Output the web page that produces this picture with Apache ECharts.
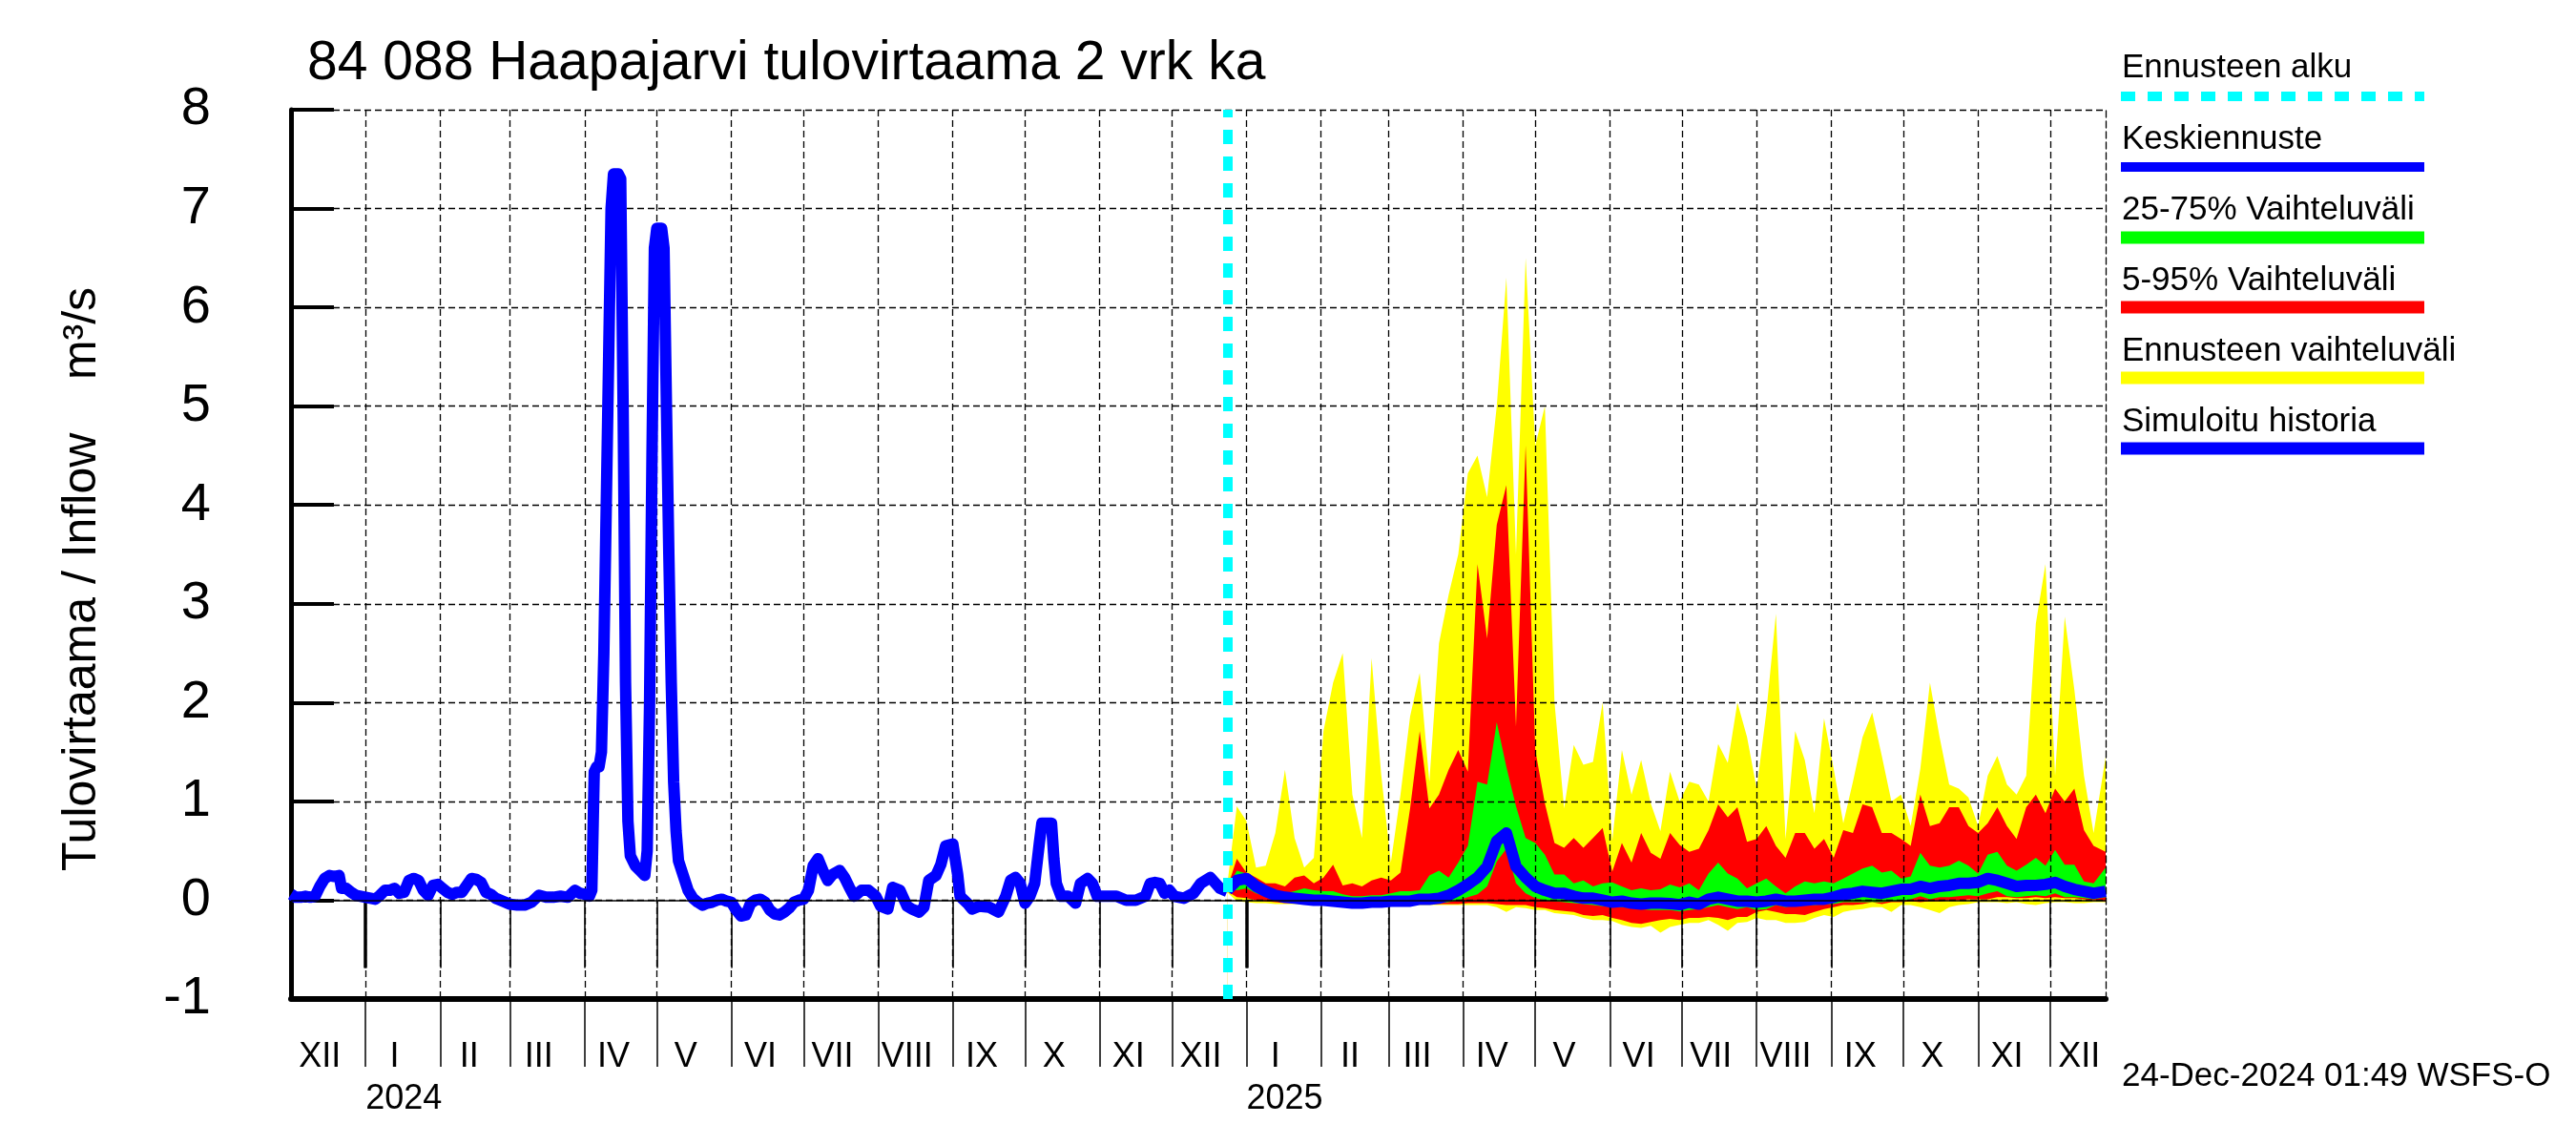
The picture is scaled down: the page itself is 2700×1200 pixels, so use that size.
<!DOCTYPE html>
<html><head><meta charset="utf-8">
<script src="https://cdn.jsdelivr.net/npm/echarts@6/dist/echarts.min.js"></script>
<style>html,body{margin:0;padding:0;background:#fff}#c{width:2700px;height:1200px}</style>
</head><body><div id="c"></div>
<script>
// x values are day offsets from 1 Dec 2023
const monthStarts = [0,31,62,91,122,152,183,213,244,275,305,336,366,397,428,456,487,517,548,578,609,640,670,701,731];
const monthLabels = ['XII','I','II','III','IV','V','VI','VII','VIII','IX','X','XI','XII','I','II','III','IV','V','VI','VII','VIII','IX','X','XI','XII'];
const yearStarts = [31,397];
const yearLabels = ['2024','2025'];
const yTickLabels = ['-1','0','1','2','3','4','5','6','7','8'];
const forecastStart = 389;
const axisEnd = 754;

const histDays = [0,2,4,6,8,10,12,14,16,18,20,21,23,25,27,29,31,33,35,37,39,41,43,45,47,49,51,53,55,57,59,61,63,65,67,69,71,73,75,77,79,81,83,85,88,91,94,97,100,103,106,109,112,115,118,120,122,124,125,126,127,128,129,130,131,132,133,134,135,136,137,138,139,140,141,143,145,147,148,149,150,151,152,153,154,155,156,157,158,159,160,161,163,165,167,169,171,173,175,177,179,181,183,185,187,189,191,193,195,197,199,201,203,205,207,209,211,213,215,217,219,221,223,225,228,230,232,234,237,240,243,245,248,250,253,256,258,261,263,265,268,270,272,275,277,278,281,283,286,290,294,297,299,301,303,305,307,309,311,312,316,317,318,320,323,326,328,331,333,335,339,343,347,351,355,357,359,361,363,365,367,371,375,378,382,386,389];
const histVals = [0.06,0.03,0.03,0.04,0.03,0.04,0.14,0.22,0.25,0.24,0.25,0.12,0.12,0.08,0.05,0.04,0.03,0.02,0.01,0.05,0.1,0.1,0.12,0.07,0.08,0.2,0.22,0.2,0.1,0.05,0.15,0.16,0.12,0.08,0.06,0.08,0.08,0.15,0.22,0.21,0.18,0.08,0.06,0.02,-0.01,-0.04,-0.05,-0.05,-0.02,0.05,0.03,0.03,0.04,0.03,0.1,0.07,0.06,0.04,0.1,1.3,1.35,1.35,1.5,2.5,4.0,5.5,7.0,7.35,7.35,7.35,7.3,5.0,2.2,0.8,0.45,0.35,0.3,0.25,0.5,2.0,4.5,6.6,6.8,6.8,6.8,6.6,5.0,3.5,2.2,1.2,0.7,0.4,0.25,0.1,0.02,-0.02,-0.05,-0.03,-0.02,0.0,0.01,-0.01,-0.02,-0.1,-0.16,-0.15,-0.03,0.0,0.01,-0.02,-0.1,-0.14,-0.15,-0.12,-0.08,-0.02,0.0,0.01,0.1,0.35,0.42,0.3,0.2,0.26,0.3,0.23,0.13,0.04,0.1,0.1,0.04,-0.06,-0.09,0.13,0.1,-0.06,-0.09,-0.12,-0.07,0.2,0.25,0.36,0.55,0.57,0.26,0.04,-0.03,-0.09,-0.06,-0.07,-0.12,0.04,0.2,0.23,0.17,-0.03,0.04,0.17,0.59,0.78,0.78,0.42,0.17,0.04,0.04,-0.03,0.17,0.22,0.17,0.04,0.04,0.04,0.0,0.0,0.04,0.17,0.18,0.17,0.07,0.1,0.04,0.02,0.07,0.17,0.23,0.12,0.09];

const fDays = [389,393,397,401,405,409,413,417,421,425,429,433,437,441,445,449,453,457,461,465,469,473,477,481,485,489,493,497,501,505,509,513,517,521,525,529,533,537,541,545,549,553,557,561,565,569,573,577,581,585,589,593,597,601,605,609,613,617,621,625,629,633,637,641,645,649,653,657,661,665,669,673,677,681,685,689,693,697,701,705,709,713,717,721,725,729,733,737,741,745,749,754];
const fMax = [0.15,0.95,0.8,0.33,0.35,0.68,1.32,0.63,0.33,0.43,1.71,2.2,2.5,1.07,0.63,2.45,1.27,0.38,1.07,1.86,2.3,1.2,2.6,3.09,3.5,4.32,4.5,4.08,5.0,6.3,3.5,6.5,4.6,5.0,2.0,0.93,1.57,1.37,1.4,2.0,0.6,1.52,1.07,1.42,0.98,0.7,1.3,1.0,1.2,1.17,1.0,1.58,1.39,2.0,1.65,1.13,1.9,2.9,0.62,1.71,1.42,0.88,1.84,1.33,0.78,1.2,1.65,1.9,1.46,1.0,1.07,0.75,1.33,2.2,1.65,1.17,1.13,1.04,0.75,1.26,1.46,1.17,1.07,1.26,2.8,3.4,1.26,2.87,2.13,1.26,0.68,1.45];
const fP95 = [0.12,0.42,0.28,0.23,0.17,0.17,0.14,0.23,0.25,0.17,0.23,0.36,0.15,0.17,0.14,0.2,0.23,0.2,0.28,0.93,1.71,0.93,1.07,1.32,1.52,1.3,3.4,2.65,3.8,4.2,1.76,4.6,1.52,0.98,0.58,0.53,0.63,0.53,0.63,0.73,0.29,0.58,0.38,0.68,0.48,0.42,0.68,0.56,0.49,0.52,0.71,0.97,0.84,0.94,0.59,0.62,0.75,0.55,0.43,0.68,0.68,0.52,0.62,0.43,0.71,0.68,0.97,0.94,0.68,0.68,0.62,0.55,1.07,0.75,0.78,0.94,0.94,0.75,0.68,0.78,0.94,0.75,0.62,0.94,1.07,0.88,1.13,1.0,1.13,0.71,0.55,0.49];
const fP75 = [0.12,0.3,0.27,0.18,0.12,0.08,0.07,0.09,0.12,0.1,0.09,0.09,0.06,0.04,0.04,0.05,0.05,0.07,0.09,0.09,0.1,0.25,0.3,0.23,0.38,0.55,1.2,1.17,1.8,1.35,0.95,0.63,0.58,0.46,0.26,0.26,0.17,0.2,0.14,0.17,0.18,0.14,0.1,0.12,0.1,0.11,0.16,0.13,0.17,0.1,0.27,0.38,0.27,0.22,0.12,0.17,0.22,0.14,0.07,0.14,0.19,0.17,0.19,0.17,0.22,0.27,0.32,0.35,0.28,0.3,0.22,0.24,0.48,0.35,0.33,0.35,0.4,0.35,0.27,0.46,0.49,0.35,0.3,0.36,0.43,0.35,0.51,0.36,0.36,0.19,0.17,0.33];
const fMedian = [0.1,0.2,0.22,0.14,0.09,0.05,0.03,0.02,0.01,0.0,0.0,-0.01,-0.02,-0.03,-0.03,-0.02,-0.02,-0.01,-0.01,-0.01,0.01,0.01,0.02,0.05,0.1,0.16,0.23,0.34,0.6,0.68,0.34,0.23,0.14,0.1,0.07,0.07,0.04,0.02,0.02,0.0,-0.02,-0.01,-0.03,-0.04,-0.03,-0.03,-0.035,-0.045,-0.02,-0.04,0.01,0.03,0.01,-0.01,-0.01,-0.02,-0.01,0.01,-0.01,-0.01,0.0,0.01,0.01,0.03,0.06,0.07,0.09,0.08,0.07,0.09,0.11,0.11,0.14,0.12,0.14,0.15,0.17,0.17,0.18,0.22,0.2,0.17,0.14,0.15,0.15,0.16,0.18,0.14,0.11,0.09,0.07,0.09];
const fP25 = [0.1,0.1,0.12,0.07,0.04,0.01,0.0,-0.01,-0.02,-0.03,-0.03,-0.04,-0.05,-0.05,-0.05,-0.05,-0.05,-0.04,-0.04,-0.04,-0.03,-0.03,-0.03,-0.02,0.0,0.03,0.06,0.14,0.39,0.52,0.17,0.07,0.02,0.0,-0.01,-0.02,-0.03,-0.04,-0.05,-0.06,-0.07,-0.07,-0.08,-0.09,-0.1,-0.1,-0.1,-0.115,-0.1,-0.09,-0.07,-0.05,-0.07,-0.09,-0.07,-0.1,-0.09,-0.05,-0.07,-0.05,-0.05,-0.05,-0.04,-0.04,-0.02,-0.02,-0.02,-0.02,-0.02,-0.01,-0.01,0.01,0.04,0.01,0.03,0.03,0.04,0.05,0.04,0.07,0.09,0.04,0.03,0.04,0.05,0.04,0.07,0.03,0.03,0.02,0.01,0.03];
const fP5 = [0.09,0.03,0.02,0.0,-0.01,-0.02,-0.03,-0.03,-0.03,-0.03,-0.04,-0.04,-0.04,-0.05,-0.05,-0.05,-0.05,-0.05,-0.05,-0.05,-0.04,-0.04,-0.04,-0.04,-0.04,-0.03,-0.03,-0.03,-0.04,-0.05,-0.05,-0.05,-0.07,-0.08,-0.1,-0.11,-0.12,-0.15,-0.16,-0.15,-0.18,-0.2,-0.23,-0.24,-0.22,-0.2,-0.19,-0.2,-0.18,-0.18,-0.17,-0.18,-0.2,-0.17,-0.17,-0.12,-0.1,-0.12,-0.14,-0.14,-0.15,-0.12,-0.09,-0.07,-0.05,-0.05,-0.04,-0.02,-0.04,-0.02,-0.02,-0.01,-0.02,-0.01,-0.01,0.0,0.0,0.01,0.01,0.01,0.03,0.03,0.02,0.02,0.03,0.02,0.03,0.02,0.02,0.01,0.0,-0.01];
const fMin = [0.08,-0.01,-0.02,-0.03,-0.03,-0.04,-0.04,-0.04,-0.04,-0.04,-0.05,-0.05,-0.05,-0.06,-0.06,-0.06,-0.06,-0.06,-0.06,-0.06,-0.05,-0.05,-0.05,-0.05,-0.05,-0.05,-0.05,-0.05,-0.07,-0.12,-0.07,-0.08,-0.1,-0.1,-0.13,-0.14,-0.15,-0.18,-0.2,-0.2,-0.21,-0.25,-0.27,-0.28,-0.26,-0.33,-0.27,-0.25,-0.23,-0.23,-0.2,-0.25,-0.31,-0.23,-0.22,-0.18,-0.2,-0.2,-0.23,-0.23,-0.22,-0.18,-0.15,-0.17,-0.12,-0.1,-0.09,-0.07,-0.07,-0.12,-0.05,-0.05,-0.07,-0.1,-0.13,-0.07,-0.05,-0.04,-0.02,-0.02,-0.02,-0.03,-0.02,-0.04,-0.05,-0.03,-0.02,-0.02,-0.03,-0.03,-0.02,-0.02];

const legendItems = ['Ennusteen alku','Keskiennuste','25-75% Vaihteluväli','5-95% Vaihteluväli','Ennusteen vaihteluväli','Simuloitu historia'];
const legendColors = ['#00ffff','#0000ff','#00ff00','#ff0000','#ffff00','#0000ff'];

const FONT = '"Liberation Sans", Arial, Helvetica, sans-serif';
const BLUE = '#0000ff', YEL = '#ffff00', RED = '#ff0000', GRN = '#00ff00', CYAN = '#00ffff';

const pairs = (xs, ys) => xs.map((x, i) => [x, ys[i]]);
const labelPos = monthStarts.map(d => d + 12);
const monthLabelMap = {};
labelPos.forEach((p, i) => { monthLabelMap[p] = monthLabels[i]; });
const yearLabelMap = {};
yearStarts.forEach((p, i) => { yearLabelMap[p] = yearLabels[i]; });

function fillToBottom(values, color) {
  return {
    type: 'line', data: pairs(fDays, values), symbol: 'none', z: 1, silent: true,
    lineStyle: { width: 0, opacity: 0 },
    areaStyle: { color: color, opacity: 1, origin: 'start' }
  };
}

const chart = echarts.init(document.getElementById('c'), null, { renderer: 'canvas', width: 2700, height: 1200 });

const legendGraphics = [];
const textY = [71, 146, 220, 294, 368, 442];
const lineY = [101, 175, 249, 322, 396, 470];
const lineH = [10, 10, 13, 13, 13, 13];
legendItems.forEach((t, i) => {
  legendGraphics.push({ type: 'text', x: 2224, y: textY[i], style: { text: t, fill: '#000', font: '35px ' + FONT, align: 'left', verticalAlign: 'middle' } });
  if (i === 0) {
    legendGraphics.push({ type: 'line', shape: { x1: 2223, y1: lineY[i], x2: 2541, y2: lineY[i] }, style: { stroke: legendColors[i], lineWidth: lineH[i], lineDash: [15, 13] } });
  } else {
    legendGraphics.push({ type: 'rect', shape: { x: 2223, y: lineY[i] - lineH[i] / 2, width: 318, height: lineH[i] }, style: { fill: legendColors[i] } });
  }
});

const gridLineStyle = { color: '#000', width: 1.3, type: [7, 4] };

const option = {
  animation: false,
  backgroundColor: '#ffffff',
  grid: { left: 305, top: 115, width: 1902, height: 932, containLabel: false },
  xAxis: [
    {
      type: 'value', min: 0, max: axisEnd, position: 'bottom', z: 2,
      axisLine: { show: true, onZero: false, lineStyle: { color: '#000', width: 6 } },
      axisTick: { show: true, inside: false, length: 71, customValues: monthStarts.slice(1), lineStyle: { color: '#000', width: 1.5 } },
      axisLabel: {
        show: true, customValues: labelPos, margin: 43, color: '#000', fontSize: 36, fontFamily: FONT,
        formatter: v => monthLabelMap[v] || ''
      },
      splitLine: { show: true, lineStyle: gridLineStyle }
    },
    {
      type: 'value', min: 0, max: axisEnd, position: 'bottom', z: 2,
      axisLine: { show: false },
      axisTick: { show: true, inside: false, length: 71, customValues: yearStarts, lineStyle: { color: '#000', width: 3.5 } },
      axisLabel: {
        show: true, customValues: yearStarts, margin: 87, color: '#000', fontSize: 36, fontFamily: FONT, align: 'left',
        formatter: v => yearLabelMap[v] || ''
      },
      splitLine: { show: false }
    },
    {
      type: 'value', min: 0, max: axisEnd, position: 'bottom', z: 2,
      axisLine: { show: false },
      axisTick: { show: true, inside: false, length: 71, customValues: monthStarts.slice(1), lineStyle: { color: '#000', width: 1.6 } },
      axisLabel: { show: true, customValues: monthStarts.slice(1), formatter: () => '', fontSize: 10 },
      splitLine: { show: false }
    }
  ],
  yAxis: [
    {
      type: 'value', min: -1, max: 8, interval: 1, position: 'left', z: 2,
      axisLine: { show: true, onZero: false, lineStyle: { color: '#000', width: 5 } },
      axisTick: { show: true, inside: true, length: 45, lineStyle: { color: '#000', width: 4 } },
      axisLabel: {
        show: true, margin: 84, color: '#000', fontSize: 56, fontFamily: FONT, padding: [0, 0, 18, 0],
        formatter: v => yTickLabels[Math.round(v) + 1]
      },
      splitLine: { show: true, lineStyle: gridLineStyle }
    },
    {
      type: 'value', min: -1, max: 8, interval: 1, position: 'right', z: 2,
      axisLine: { show: true, onZero: false, lineStyle: gridLineStyle },
      axisTick: { show: false }, axisLabel: { show: false }, splitLine: { show: false }
    }
  ],
  series: [
    fillToBottom(fMax, YEL),
    fillToBottom(fP95, RED),
    fillToBottom(fP75, GRN),
    fillToBottom(fP25, RED),
    fillToBottom(fP5, YEL),
    fillToBottom(fMin, '#ffffff'),
    {
      type: 'line', data: [], z: 3, silent: true,
      markLine: { symbol: 'none', silent: true, label: { show: false },
        lineStyle: { color: '#000', width: 1.5, type: 'solid' }, data: [{ yAxis: 0 }] }
    },
    {
      name: 'Simuloitu historia', type: 'line', data: pairs(histDays, histVals), symbol: 'none', z: 4,
      lineStyle: { color: BLUE, width: 12, join: 'round' }
    },
    {
      name: 'Keskiennuste', type: 'line', data: pairs(fDays, fMedian), symbol: 'none', z: 4,
      lineStyle: { color: BLUE, width: 12, join: 'round' }
    },
    {
      type: 'line', data: [], z: 5, silent: true,
      markLine: { symbol: 'none', silent: true, label: { show: false },
        lineStyle: { color: CYAN, width: 10, type: [15, 13] }, data: [{ xAxis: forecastStart }] }
    }
  ],
  graphic: [
    { type: 'text', x: 322, y: 67, style: { text: '84 088 Haapajarvi tulovirtaama 2 vrk ka', fill: '#000', font: '57px ' + FONT, align: 'left', verticalAlign: 'middle' } },
    { type: 'text', x: 86, y: 607, rotation: Math.PI / 2, style: { text: 'Tulovirtaama / Inflow    m³/s', fill: '#000', font: '50px ' + FONT, align: 'center', verticalAlign: 'middle' } },
    { type: 'text', x: 2224, y: 1128, style: { text: '24-Dec-2024 01:49 WSFS-O', fill: '#000', font: '35px ' + FONT, align: 'left', verticalAlign: 'middle' } }
  ].concat(legendGraphics)
};
chart.setOption(option);
</script>
</body></html>
